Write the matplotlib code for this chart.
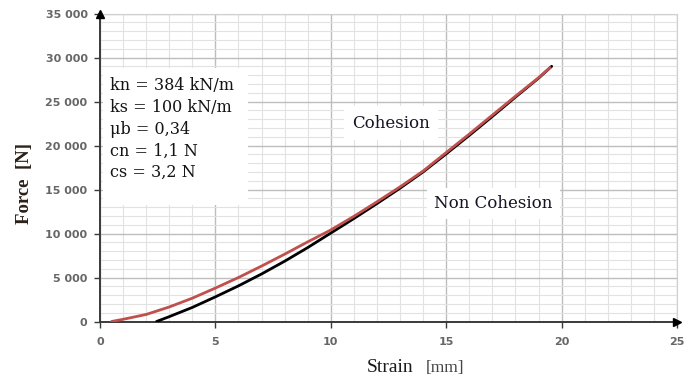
import matplotlib
matplotlib.use("Agg")
import matplotlib.pyplot as plt
from matplotlib.patches import Rectangle
from matplotlib.ticker import MultipleLocator, FuncFormatter

# Force-strain curves (strain in mm, force in N)
strain_cohesion = [0.5, 1, 2, 3, 4, 5, 6, 7, 8, 9, 10, 11, 12, 13, 14, 15,
                   16, 17, 18, 19, 19.5]
force_cohesion = [0, 250, 800, 1650, 2650, 3800, 5000, 6300, 7650, 9050,
                  10400, 11950, 13600, 15300, 17100, 19200, 21300, 23450,
                  25600, 27700, 28850]

strain_noncohesion = [2.45, 3, 4, 5, 6, 7, 8, 9, 10, 11, 12, 13, 14, 15, 16,
                      17, 18, 19, 19.57]
force_noncohesion = [0, 550, 1600, 2800, 4050, 5400, 6850, 8400, 10050,
                     11700, 13400, 15150, 17000, 19050, 21150, 23300, 25500,
                     27650, 29000]

params = ["kn = 384 kN/m", "ks = 100 kN/m", "\u03bcb = 0,34", "cn = 1,1 N",
          "cs = 3,2 N"]

fig = plt.figure(figsize=(6.96, 3.79), dpi=100)
ax = fig.add_axes([100 / 696, 57.5 / 379, 577 / 696, 308 / 379])

ax.set_xlim(0, 25)
ax.set_ylim(0, 35000)
ax.xaxis.set_major_locator(MultipleLocator(5))
ax.xaxis.set_minor_locator(MultipleLocator(1))
ax.yaxis.set_major_locator(MultipleLocator(5000))
ax.yaxis.set_minor_locator(MultipleLocator(1000))
ax.yaxis.set_major_formatter(FuncFormatter(lambda v, p: f"{v:,.0f}".replace(",", " ")))

ax.grid(which="major", color="#bdbdbd", linewidth=1.0)
ax.grid(which="minor", color="#e2e2e2", linewidth=0.8)
ax.set_axisbelow(True)

for side in ("top", "right"):
    ax.spines[side].set_color("#d0d0d0")
    ax.spines[side].set_linewidth(0.8)
for side in ("left", "bottom"):
    ax.spines[side].set_color("#3a3a3a")
    ax.spines[side].set_linewidth(1.4)

ax.tick_params(which="major", direction="out", length=4, width=1,
               color="#3a3a3a", labelsize=8, labelcolor="#666666")
ax.tick_params(axis="y", pad=5)
ax.tick_params(axis="x", pad=7)
ax.tick_params(which="minor", length=0)
for lbl in ax.get_xticklabels() + ax.get_yticklabels():
    lbl.set_fontweight("bold")

# arrow heads on the axes
ax.plot([0], [1], marker="^", markersize=6, color="black",
        transform=ax.transAxes, clip_on=False, zorder=5)
ax.plot([1], [0], marker=">", markersize=6, color="black",
        transform=ax.transAxes, clip_on=False, zorder=5)

ax.plot(strain_noncohesion, force_noncohesion, color="black", linewidth=2.0,
        solid_capstyle="round", zorder=3)
ax.plot(strain_cohesion, force_cohesion, color="#c0504d", linewidth=2.0,
        solid_capstyle="round", zorder=4)

# parameter box
ax.add_patch(Rectangle((0.005, 0.378), 0.251, 0.445, transform=ax.transAxes,
                       facecolor="white", edgecolor="none", zorder=2))
ax.text(10 / 577, (321.5 - 77) / 308, "\n".join(params), transform=ax.transAxes,
        ha="left", va="top", fontsize=11.5, family="DejaVu Serif",
        color="#141414", linespacing=1.37, zorder=6)

ax.text(12.6, 22550, "Cohesion", ha="center", va="center", fontsize=12,
        family="DejaVu Serif", color="#141424", zorder=6,
        bbox=dict(facecolor="white", edgecolor="none", pad=6))
ax.text(17.05, 13460, "Non Cohesion", ha="center", va="center", fontsize=12,
        family="DejaVu Serif", color="#141424", zorder=6,
        bbox=dict(facecolor="white", edgecolor="none", pad=5))

# axis titles
fig.text(367 / 696, 7 / 379, "Strain", ha="left", va="baseline", fontsize=14,
         family="Liberation Serif", color="#1a1a1a")
fig.text(426 / 696, 7 / 379, "[mm]", ha="left", va="baseline", fontsize=12.5,
         family="Liberation Serif", color="#444444")
fig.text(24 / 696, (379 - 184) / 379, "Force  [N]", ha="center", va="center",
         rotation=90, fontsize=13.5, fontweight="bold",
         family="Liberation Serif", color="#2b2117")

fig.savefig("out.png", dpi=100)
